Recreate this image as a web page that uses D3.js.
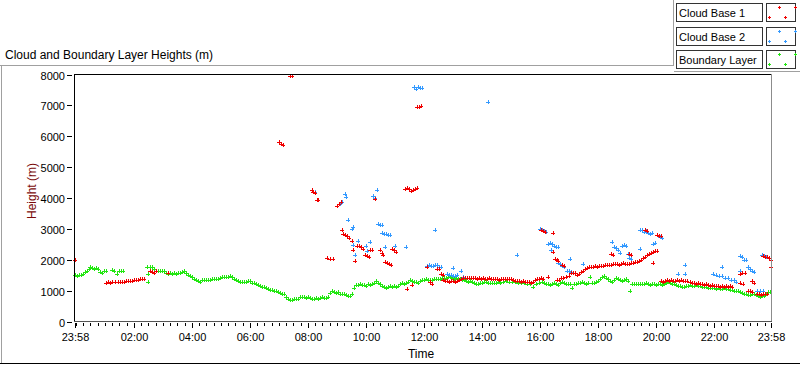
<!DOCTYPE html>
<html>
<head>
<meta charset="utf-8">
<script src="https://cdn.jsdelivr.net/npm/d3@7"></script>
<style>
  html, body { margin: 0; padding: 0; background: #ffffff; }
  svg { display: block; font-family: "Liberation Sans", Arial, sans-serif; }
</style>
</head>
<body>
<svg id="chart" width="800" height="365"></svg>
<script>
// ---------------- DATA (time = clock hours since 00:00; start 23:58 of previous day) ----------------
const title = "Cloud and Boundary Layer Heights (m)";
const yLabel = "Height (m)";
const xLabel = "Time";
const seriesNames = ["Cloud Base 1", "Cloud Base 2", "Boundary Layer"];
const seriesColors = ["#f00000", "#3399ff", "#22e611"];

const yTickValues = [0, 1000, 2000, 3000, 4000, 5000, 6000, 7000, 8000];
const xTickValues = [-2/60, 2, 4, 6, 8, 10, 12, 14, 16, 18, 20, 22, 24 - 2/60];
const xTickLabels = ["23:58", "02:00", "04:00", "06:00", "08:00", "10:00", "12:00", "14:00", "16:00", "18:00", "20:00", "22:00", "23:58"];

const cloudBase1 = [
  [-0.02,1980],
  [1.03,1250],[1.10,1270],[1.17,1260],[1.24,1280],[1.34,1280],[1.45,1280],[1.52,1290],[1.59,1280],[1.66,1290],[1.72,1300],[1.79,1310],[1.86,1320],[1.93,1320],[2.00,1340],[2.07,1350],[2.14,1350],[2.21,1370],[2.28,1380],[2.34,1390],
  [2.55,1620],[2.62,1600],[2.69,1570],[2.76,1640],[3.17,1560],
  [7.00,5800],[7.07,5760],[7.14,5720],[7.38,7960],[7.45,7940],
  [8.14,4250],[8.17,4200],[8.24,4150],[8.31,3920],[8.34,3930],
  [8.66,2060],[8.76,2040],[8.86,2030],
  [9.00,3730],[9.07,3790],[9.14,3860],[9.16,2970],
  [9.21,2840],[9.28,2800],[9.34,2760],[9.41,2720],[9.52,2620],[9.55,2300],[9.62,1975],
  [9.69,2460],[9.76,2430],[9.83,2400],[9.90,2360],[9.97,2140],[10.03,2110],[10.10,2090],[10.14,2300],[10.21,2310],[10.31,3970],
  [10.48,2300],[10.55,2220],[10.59,2170],[10.66,1920],[10.72,1880],[10.79,1850],[10.86,1820],[10.90,2360],[10.97,2300],[11.03,2250],
  [11.34,4300],[11.41,4330],[11.48,4280],[11.55,4240],[11.62,4250],[11.69,4290],[11.76,4320],
  [11.41,1060],[11.59,1170],
  [11.76,6940],[11.83,6950],[11.90,6970],
  [12.10,1760],[12.21,1270],[12.28,1230],[12.45,1710],[12.52,1700],[12.59,1540],[12.66,1500],
  [12.66,1330],[12.72,1300],[12.79,1320],[12.86,1290],[12.93,1300],[13.00,1310],[13.07,1280],[13.14,1300],[13.21,1350],[13.28,1380],[13.34,1420],[13.41,1420],[13.48,1410],[13.55,1400],[13.62,1420],[13.69,1400],[13.76,1410],[13.83,1390],[13.90,1400],[13.97,1380],
  [14.03,1400],[14.10,1390],[14.17,1380],[14.24,1400],[14.31,1390],[14.38,1380],[14.45,1370],[14.52,1380],[14.59,1360],[14.66,1380],[14.72,1390],[14.79,1370],[14.86,1380],[14.93,1390],[15.00,1370],[15.07,1330],[15.14,1310],[15.21,1300],[15.28,1310],[15.34,1290],[15.41,1300],[15.48,1280],[15.55,1270],[15.62,1280],[15.69,1260],[15.76,1290],[15.83,1350],[15.90,1380],[15.97,1390],[16.03,1400],[16.10,1380],
  [16.03,2950],[16.10,2920],[16.17,2890],[16.28,1440],[16.45,2860],[16.45,2240],[16.52,2020],[16.59,2000],[16.62,1975],
  [16.59,1330],[16.66,1360],[16.72,1400],[16.76,1820],[16.83,1800],
  [16.79,1420],[16.90,1450],[17.00,1480],[17.07,1560],[17.14,1580],[17.21,1560],[17.28,1520],[17.34,1540],[17.41,1600],[17.48,1650],[17.55,1700],[17.62,1720],[17.69,1750],[17.76,1780],[17.83,1760],[17.90,1790],[17.97,1780],
  [18.03,1800],[18.10,1790],[18.17,1810],[18.24,1820],[18.31,1830],[18.38,1840],[18.45,1820],
  [18.45,2190],[18.52,2170],
  [18.52,1870],[18.59,1850],[18.66,1860],[18.72,1840],[18.79,1860],[18.86,1880],[18.93,1850],[19.00,1870],
  [19.07,2180],[19.14,2150],
  [19.07,1870],[19.14,1890],[19.21,1900],[19.28,1920],[19.34,1940],[19.41,1970],[19.48,1990],[19.55,2060],[19.62,2100],[19.69,2150],[19.76,2190],[19.83,2220],[19.90,2250],[19.97,2270],[20.03,2280],
  [19.90,1900],[19.62,2950],[19.69,2940],[20.03,2800],[20.10,2780],[20.17,2760],
  [20.17,1300],[20.24,1280],[20.31,1310],[20.38,1330],[20.45,1320],[20.52,1330],[20.59,1300],[20.66,1320],[20.72,1340],[20.79,1310],[20.86,1330],[20.93,1320],[21.00,1300],[21.07,1310],
  [21.17,1270],[21.24,1250],[21.31,1260],[21.38,1230],[21.45,1250],[21.52,1220],[21.59,1200],[21.66,1180],[21.72,1200],[21.79,1170],[21.86,1150],[21.93,1170],
  [22.00,1140],[22.07,1160],[22.14,1150],[22.21,1120],[22.28,1150],[22.34,1130],[22.41,1140],[22.48,1120],[22.55,1150],[22.62,1130],
  [22.90,1540],[22.97,1560],[23.07,1560],[22.90,1260],[23.00,1230],
  [23.17,1000],[23.24,980],[23.31,950],[23.31,1300],[23.38,1250],
  [23.48,900],[23.55,880],[23.62,870],[23.69,880],[23.76,890],[23.83,900],
  [23.69,2130],[23.76,2100],[23.83,2080],[23.90,2050],[23.97,2000],[23.97,1760]
];

const cloudBase2 = [
  [8.24,4190],[9.10,3810],[9.17,3860],[9.28,4130],[9.31,4030],[9.38,3290],[9.52,3000],[9.55,3070],[9.55,2490],[9.17,2970],
  [9.62,2140],[9.72,2620],[10.00,2460],[10.03,2280],[10.14,2590],
  [10.24,4050],[10.31,4000],[10.38,4250],[10.41,3160],[10.48,3130],[10.55,3110],
  [10.55,2880],[10.62,2850],[10.69,2830],[10.76,2800],[10.83,2790],[10.66,2410],[11.00,2440],[11.38,2410],[11.55,4230],
  [11.66,7610],[11.72,7520],[11.79,7580],[11.86,7570],[11.93,7560],
  [12.10,1800],[12.17,1830],[12.24,1810],[12.31,1790],[12.38,1820],[12.38,2950],[12.45,1840],[12.52,1780],[12.59,1760],
  [12.79,1550],[12.86,1500],[12.93,1520],[13.00,1480],[13.00,1740],[13.07,1460],[13.14,1500],[13.28,1630],[13.34,1440],
  [14.21,7120],[15.21,2140],
  [16.00,2990],[16.07,2960],[16.14,2930],[16.21,2900],
  [16.28,2520],[16.34,2530],[16.38,2300],[16.41,2500],[16.48,2450],[16.55,2420],[16.62,2410],
  [16.62,1880],[16.69,1850],[16.76,1800],[16.83,1770],[16.93,1650],[17.00,1620],[17.03,2030],[17.07,1600],[17.48,1870],
  [18.48,2570],[18.55,2400],[18.62,2380],[18.69,2300],[18.76,2220],[18.83,2460],[18.90,2480],[18.97,2430],[19.03,2200],[19.07,2050],[19.14,2020],
  [19.45,2350],[19.45,2950],[19.52,2960],[19.59,2900],[19.66,2920],[19.72,2880],[19.79,2850],[19.86,2870],[19.90,2520],[19.97,2540],
  [20.14,2730],[20.21,2720],[20.76,1540],[21.00,1820],[21.00,1550],
  [21.97,1540],[22.07,1500],[22.17,1470],[22.28,1460],[22.28,1760],[22.38,1420],[22.48,1400],[22.59,1350],[22.69,1330],[22.76,1280],
  [22.90,2130],[22.90,1620],[22.97,2100],[23.03,2000],[23.10,1980],
  [23.17,1760],[23.24,1700],[23.31,1650],[23.38,1600],
  [23.48,1000],[23.59,990],[23.66,2140],[23.69,1000],[23.72,2120],[23.79,2080]
];

const boundaryLayer = [
  [-0.03,1490],[0.03,1480],[0.10,1500],[0.17,1520],[0.24,1540],[0.31,1600],[0.38,1640],[0.45,1700],[0.50,1760],[0.55,1720],[0.62,1690],[0.69,1720],[0.76,1700],[0.83,1610],[0.90,1570],[0.97,1640],
  [1.03,1620],[1.24,1660],[1.31,1640],[1.40,1550],[1.48,1630],[1.55,1640],[1.62,1630],
  [2.45,1760],[2.48,1540],[2.50,1280],[2.55,1770],[2.62,1750],[2.69,1690],[2.76,1640],[2.83,1620],[2.90,1650],[2.97,1620],
  [3.03,1640],[3.10,1580],[3.17,1540],[3.24,1560],[3.31,1530],[3.38,1560],[3.45,1540],[3.52,1580],[3.59,1560],[3.66,1600],[3.72,1620],[3.79,1560],[3.86,1490],[3.93,1460],
  [4.00,1430],[4.07,1380],[4.14,1330],[4.21,1300],[4.28,1280],[4.34,1330],[4.41,1350],[4.48,1340],[4.55,1360],[4.62,1350],[4.69,1370],[4.76,1380],[4.83,1380],[4.90,1390],[4.97,1400],
  [5.03,1430],[5.10,1440],[5.17,1430],[5.24,1450],[5.31,1460],[5.38,1430],[5.45,1370],[5.52,1330],[5.59,1310],[5.66,1290],[5.72,1280],[5.79,1270],[5.86,1290],[5.93,1310],
  [6.00,1300],[6.07,1260],[6.14,1240],[6.21,1220],[6.28,1180],[6.34,1150],[6.41,1120],[6.48,1110],[6.55,1080],[6.62,1050],[6.69,1030],[6.76,1010],[6.83,990],[6.90,980],[6.97,960],
  [7.03,930],[7.10,900],[7.17,880],[7.24,800],[7.31,740],[7.38,700],[7.45,710],[7.52,720],[7.59,740],[7.66,730],[7.72,780],[7.79,800],[7.86,790],[7.93,770],
  [8.00,780],[8.07,760],[8.14,740],[8.21,730],[8.28,760],[8.34,740],[8.41,760],[8.48,780],[8.55,770],[8.62,760],[8.69,790],[8.76,920],[8.83,980],[8.90,950],[8.97,920],
  [9.03,960],[9.10,900],[9.17,880],[9.24,900],[9.31,870],[9.38,830],[9.45,810],[9.52,880],[9.59,1080],[9.66,1190],[9.72,1180],[9.79,1200],[9.86,1170],[9.93,1190],
  [10.00,1160],[10.07,1200],[10.14,1180],[10.21,1210],[10.28,1240],[10.34,1320],[10.41,1250],[10.48,1200],[10.55,1150],[10.62,1120],[10.69,1090],[10.76,1120],[10.83,1150],[10.90,1130],[10.97,1140],
  [11.03,1130],[11.10,1160],[11.17,1210],[11.24,1240],[11.31,1200],[11.38,1260],[11.45,1290],[11.52,1330],[11.59,1300],[11.66,1270],[11.72,1280],[11.79,1260],[11.86,1300],[11.93,1330],
  [12.00,1360],[12.07,1380],[12.14,1350],[12.21,1340],[12.28,1360],[12.34,1370],[12.41,1380],[12.48,1390],[12.55,1380],[12.62,1400],[12.69,1420],[12.76,1400],[12.83,1430],[12.90,1440],[12.97,1410],
  [13.03,1380],[13.10,1400],[13.17,1380],[13.24,1390],[13.31,1360],[13.38,1330],[13.45,1310],[13.52,1290],[13.59,1300],[13.66,1270],[13.72,1250],[13.79,1220],[13.86,1230],[13.93,1240],
  [14.00,1250],[14.07,1270],[14.14,1280],[14.21,1260],[14.28,1250],[14.34,1240],[14.41,1260],[14.48,1250],[14.55,1270],[14.62,1250],[14.72,1280],[14.83,1300],[14.93,1290],
  [15.03,1280],[15.14,1270],[15.24,1260],[15.34,1250],[15.45,1240],[15.55,1230],[15.66,1200],[15.76,1130],[15.86,1200],[15.97,1240],
  [16.07,1270],[16.14,1250],[16.21,1220],[16.28,1200],[16.34,1180],[16.41,1230],[16.48,1260],[16.55,1220],[16.62,1190],[16.69,1240],[16.76,1270],[16.83,1250],[16.90,1230],[16.97,1210],
  [17.03,1230],[17.10,1090],[17.17,1200],[17.24,1220],[17.31,1250],[17.38,1240],[17.45,1270],[17.52,1250],[17.59,1230],[17.66,1260],[17.72,1430],[17.79,1250],[17.86,1240],[17.93,1280],
  [18.00,1300],[18.07,1380],[18.14,1450],[18.21,1480],[18.28,1420],[18.34,1380],[18.41,1300],[18.48,1280],[18.55,1350],[18.62,1400],[18.69,1380],[18.76,1330],[18.83,1300],[18.90,1340],[18.97,1380],
  [19.03,1300],[19.10,1000],[19.17,1230],[19.24,1200],[19.31,1220],[19.38,1210],[19.45,1230],[19.52,1200],[19.59,1220],[19.66,1240],[19.72,1210],[19.79,1190],[19.86,1220],[19.93,1200],
  [20.00,1180],[20.07,1200],[20.14,1220],[20.21,1190],[20.28,1210],[20.34,1240],[20.41,1270],[20.48,1250],[20.55,1230],[20.62,1200],[20.69,1180],[20.76,1160],[20.83,1140],[20.90,1130],[20.97,1120],
  [21.03,1140],[21.10,1150],[21.17,1170],[21.24,1160],[21.31,1150],[21.38,1170],[21.45,1160],[21.52,1150],[21.59,1130],[21.66,1110],[21.72,1120],[21.79,1100],[21.86,1080],[21.93,1090],
  [22.00,1070],[22.07,1060],[22.14,1080],[22.21,1060],[22.28,1050],[22.34,1070],[22.41,1040],[22.48,1050],[22.55,1020],[22.62,1030],[22.69,1000],[22.76,980],[22.83,990],[22.90,950],[22.97,920],
  [23.03,900],[23.10,880],[23.17,860],[23.24,870],[23.31,880],[23.38,900],[23.45,860],[23.52,830],[23.59,800],[23.66,810],[23.72,830],[23.79,880],[23.86,940],[23.93,960]
];

const seriesData = [cloudBase1, cloudBase2, boundaryLayer];

// ---------------- LAYOUT ----------------
const svg = d3.select("#chart");
const plot = { left: 75, right: 771, top: 74.5, bottom: 321.5 };

const x = d3.scaleLinear().domain([-2/60, 24 - 2/60]).range([plot.left, plot.right]);
const y = d3.scaleLinear().domain([0, 8000]).range([plot.bottom, plot.top]);

// plus-shaped marker, 4 px wide
const plus = (X, Y) => `M${X - 2},${Y + 0.5}h4M${X + 0.5},${Y - 2}v4`;

// outer frame
const frame = svg.append("g").attr("fill", "none").attr("shape-rendering", "crispEdges");
frame.append("path").attr("d", "M0,65.5H673.5V0").attr("stroke", "#a0a0a0");
frame.append("path").attr("d", "M673.5,71.5H800").attr("stroke", "#a0a0a0");
frame.append("path").attr("d", "M1.5,65V363").attr("stroke", "#a0a0a0");
frame.append("path").attr("d", "M0,363.5H800").attr("stroke", "#000");

// title
svg.append("text").attr("x", 5).attr("y", 59).attr("font-size", 12).attr("fill", "#000").text(title);

// plot background
svg.append("rect").attr("x", plot.left).attr("y", plot.top).attr("width", plot.right - plot.left).attr("height", plot.bottom - plot.top).attr("fill", "#fff");

// data points (plus markers)
const marks = svg.append("g").attr("shape-rendering", "crispEdges");
[2, 1, 0].forEach(si => {
  marks.append("path")
    .attr("fill", "none")
    .attr("stroke", seriesColors[si])
    .attr("stroke-width", 1)
    .attr("d", seriesData[si].map(d => plus(Math.round(x(d[0])), Math.round(y(d[1])))).join(""));
});

const border = svg.append("g").attr("fill", "none").attr("shape-rendering", "crispEdges");
border.append("path").attr("d", `M${plot.left},74.5H772`).attr("stroke", "#000");
border.append("path").attr("d", `M771.5,74V322`).attr("stroke", "#8c8c8c");
border.append("path").attr("d", `M74.5,74V322`).attr("stroke", "#000");
border.append("path").attr("d", `M74,321.5H772`).attr("stroke", "#555");

// y axis ticks and labels
const yAxis = svg.append("g").attr("font-size", 11).attr("fill", "#000");
yTickValues.forEach(v => {
  const yy = Math.round(y(v)) + 0.5;
  yAxis.append("line").attr("x1", 67).attr("x2", 72).attr("y1", yy).attr("y2", yy)
    .attr("stroke", "#000").attr("shape-rendering", "crispEdges");
  yAxis.append("text").attr("x", 65).attr("y", yy + 4).attr("text-anchor", "end").text(d3.format("d")(v));
});

// x axis: minor ticks every 15 min, majors at labelled values
const xAxis = svg.append("g").attr("font-size", 11).attr("fill", "#000");
const minor = d3.range(0, 24, 0.25).filter(t => t % 2 !== 0 || t === 0);
minor.forEach(t => {
  const xx = Math.round(x(t)) + 0.5;
  xAxis.append("line").attr("x1", xx).attr("x2", xx).attr("y1", 323).attr("y2", 326)
    .attr("stroke", "#000").attr("shape-rendering", "crispEdges");
});
xTickValues.forEach((t, i) => {
  const xx = Math.round(x(t)) + 0.5;
  xAxis.append("line").attr("x1", xx).attr("x2", xx).attr("y1", 323).attr("y2", 328)
    .attr("stroke", "#000").attr("shape-rendering", "crispEdges");
  xAxis.append("text").attr("x", xx).attr("y", 341).attr("text-anchor", "middle").text(xTickLabels[i]);
});

// axis titles
svg.append("text").attr("x", 421).attr("y", 358).attr("text-anchor", "middle").attr("font-size", 12).attr("fill", "#000").text(xLabel);
svg.append("text").attr("transform", "translate(36,191) rotate(-90)").attr("text-anchor", "middle")
  .attr("font-size", 12).attr("fill", "#7a0a0a").text(yLabel);

// legend
const legend = svg.append("g");
const legTops = [3, 26.5, 50];
const crossPos = [[12, 4], [28, 4], [2, 13.5], [18, 13.5]];
seriesNames.forEach((name, i) => {
  const top = Math.round(legTops[i]);
  legend.append("rect").attr("x", 676.5).attr("y", top + 0.5).attr("width", 86).attr("height", 18)
    .attr("fill", "#fff").attr("stroke", "#333").attr("shape-rendering", "crispEdges");
  legend.append("text").attr("x", 679).attr("y", top + 14).attr("font-size", 11).attr("fill", "#000").text(name);
  legend.append("rect").attr("x", 766.5).attr("y", top + 0.5).attr("width", 29).attr("height", 18)
    .attr("fill", "#fff").attr("stroke", "#333").attr("shape-rendering", "crispEdges");
  legend.append("path").attr("fill", "none").attr("stroke", seriesColors[i]).attr("shape-rendering", "crispEdges")
    .attr("d", crossPos.map(p => `M${767 + p[0] - 1},${top + p[1] + 0.5}h3M${767 + p[0] + 0.5},${top + p[1] - 1}v3`).join(""));
});
</script>
</body>
</html>
